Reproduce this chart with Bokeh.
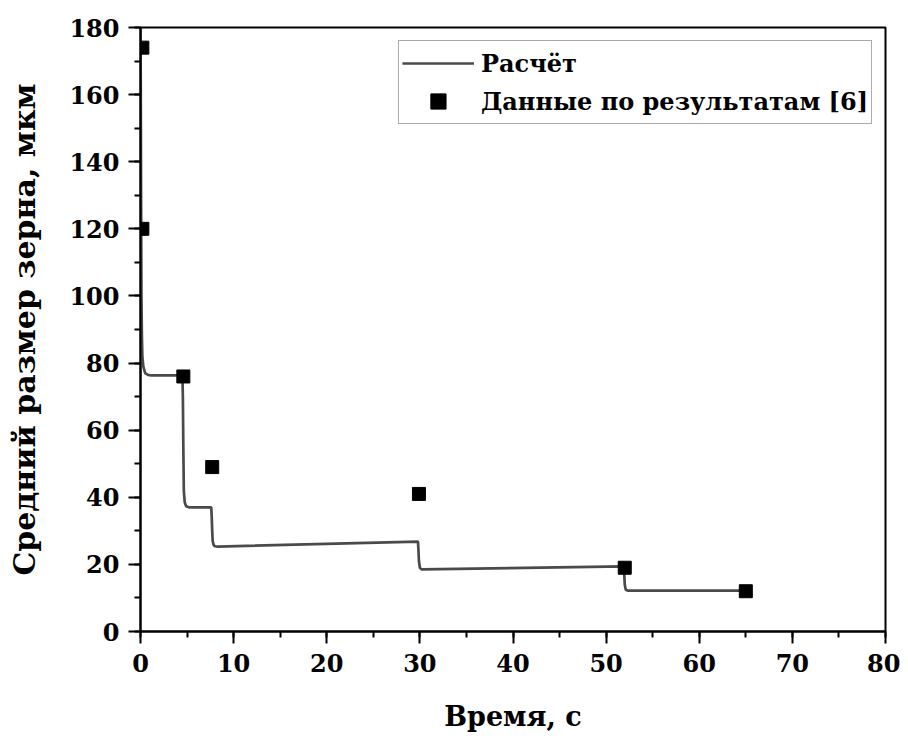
from bokeh.plotting import figure
from bokeh.models import Range1d, SingleIntervalTicker
from bokeh.embed import file_html
from bokeh.resources import INLINE

# Calculated curve
calc_t = [0, 0.03, 0.06, 0.1, 0.15, 0.2, 0.3, 0.5, 0.8, 1.2,
          4.5, 4.55, 4.6, 4.65, 4.75, 4.9, 5.2,
          7.6, 7.65, 7.7, 7.75, 7.85, 8.0, 8.3,
          29.8, 29.85, 29.9, 30.0, 30.2,
          51.9, 51.95, 52.0, 52.1, 52.3, 65.0]
calc_d = [180, 160, 130, 100, 88, 82, 79, 77, 76.5, 76.3,
          76.3, 70, 55, 42, 38.5, 37.3, 37.0,
          37.0, 34, 30, 27, 25.8, 25.4, 25.3,
          26.8, 24, 21, 19, 18.5,
          19.4, 17, 14, 12.5, 12.2, 12.2]

# Experimental data [6]
exp_t = [0.2, 0.2, 4.6, 7.7, 29.9, 52.0, 65.0]
exp_d = [174, 120, 76, 49, 41, 19, 12]

FONT = "DejaVu Serif"

p = figure(width=900, height=734, output_backend="svg", toolbar_location=None,
           x_range=Range1d(0, 80), y_range=Range1d(0, 180),
           min_border_left=140, min_border_right=15, min_border_top=27,
           min_border_bottom=102)

p.background_fill_color = "white"
p.border_fill_color = "white"
p.outline_line_color = "black"
p.outline_line_width = 2
p.xgrid.visible = False
p.ygrid.visible = False

p.line(calc_t, calc_d, line_color="#4a4a4a", line_width=2.7, legend_label="Расчёт")
p.scatter(exp_t, exp_d, marker="square", size=13, color="black",
          legend_label="Данные по результатам [6]")

p.xaxis.ticker = SingleIntervalTicker(interval=10, num_minor_ticks=2)
p.yaxis.ticker = SingleIntervalTicker(interval=20, num_minor_ticks=2)

for ax in (p.xaxis[0], p.yaxis[0]):
    ax.axis_line_width = 2
    ax.axis_line_color = "black"
    ax.major_tick_line_width = 2
    ax.minor_tick_line_width = 2
    ax.major_tick_line_color = "black"
    ax.minor_tick_line_color = "black"
    ax.major_tick_out = 12
    ax.major_tick_in = 0
    ax.minor_tick_out = 6
    ax.minor_tick_in = 0
    ax.major_label_text_font = FONT
    ax.major_label_text_font_style = "bold"
    ax.major_label_text_font_size = "24px"
    ax.major_label_text_color = "black"
    ax.axis_label_text_font = FONT
    ax.axis_label_text_font_style = "bold"
    ax.axis_label_text_color = "black"

p.xaxis.axis_label_text_font_size = "27px"
p.yaxis.axis_label_text_font_size = "30px"
p.xaxis.axis_label = "Время, с"
p.yaxis.axis_label = "Средний размер зерна, мкм"
p.xaxis.major_label_standoff = 10
p.yaxis.major_label_standoff = 9
p.xaxis.axis_label_standoff = 26
p.yaxis.axis_label_standoff = 24

lg = p.legend[0]
lg.location = "top_right"
lg.margin = 13
lg.padding = 3
lg.spacing = 0
lg.glyph_width = 72
lg.glyph_height = 38
lg.label_standoff = 7
lg.label_text_font = FONT
lg.label_text_font_style = "bold"
lg.label_text_font_size = "24px"
lg.label_text_color = "black"
lg.border_line_color = "#555555"
lg.border_line_width = 1
lg.background_fill_alpha = 1.0

open("out.html", "w").write(file_html(p, INLINE))
